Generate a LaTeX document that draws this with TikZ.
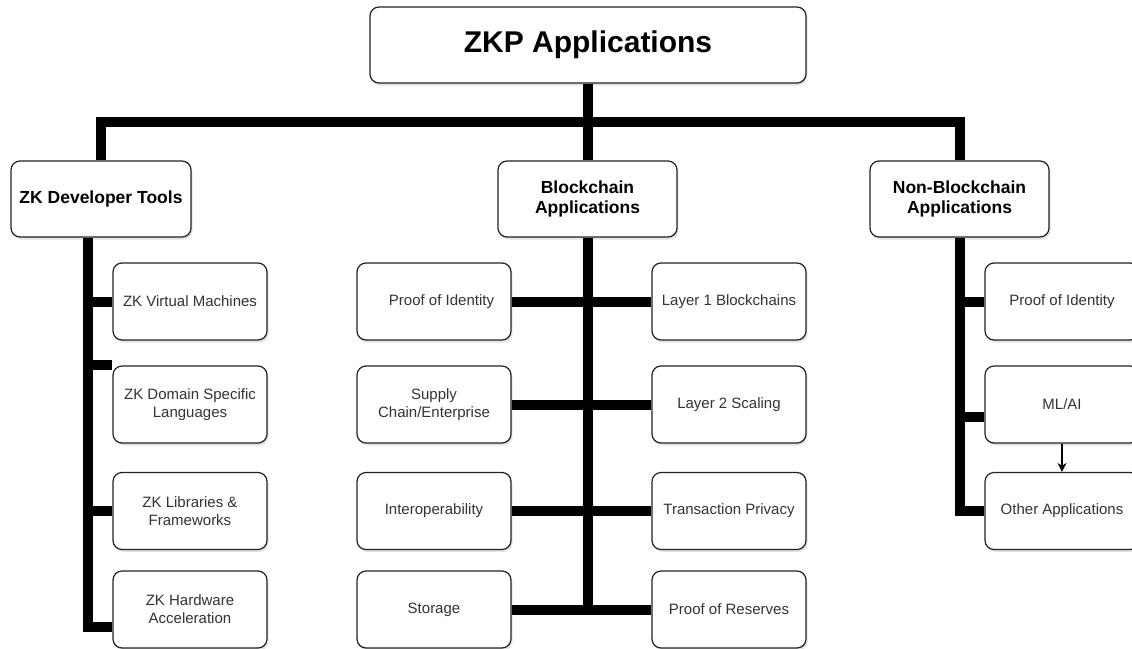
\documentclass[tikz,border=0pt]{standalone}
\usepackage{fontspec}
\setmainfont{Liberation Sans}
\usetikzlibrary{shadows,arrows.meta,calc}
\definecolor{leaftext}{HTML}{333333}
\definecolor{boxline}{HTML}{222222}
\begin{document}
\begin{tikzpicture}[x=1pt,y=-1pt,
  box/.style={draw=boxline, line width=1.2pt, rounded corners=9pt, fill=white,
    drop shadow={opacity=0.22, shadow xshift=1.5pt, shadow yshift=-2.5pt},
    inner sep=0pt, align=center},
  leaf/.style={box, minimum width=154pt, minimum height=77pt,
    font=\fontsize{15}{18}\selectfont, text=leaftext},
  head/.style={box, minimum width=179pt, minimum height=76pt,
    font=\bfseries\fontsize{17.5}{20.5}\selectfont},
  conn/.style={line width=10pt, draw=black},
  thinarrow/.style={line width=1.3pt, draw=black, -{Stealth[length=9pt,width=9pt]}},
]
\useasboundingbox (0,0) rectangle (1132,648);
\clip (0,0) rectangle (1132,648);
\fill[white] (0,0) rectangle (1132,648);

% top
\node[box, minimum width=436pt, minimum height=76pt, font=\bfseries\fontsize{30}{34}\selectfont] (top) at (588,45) {ZKP Applications};

% headers
\node[head, minimum width=180pt] (dev) at (101,199) {ZK Developer Tools};
\node[head] (bc) at (587.5,199) {Blockchain\\Applications};
\node[head] (nb) at (959.5,199) {Non-Blockchain\\Applications};

% developer tools leaves
\node[leaf] (vm)  at (190,301.5) {ZK Virtual Machines};
\node[leaf] (dsl) at (190,404.5) {ZK Domain Specific\\Languages};
\node[leaf] (lib) at (190,511)   {ZK Libraries \&\\Frameworks};
\node[leaf] (hw)  at (190,609.5) {ZK Hardware\\Acceleration};

% blockchain leaves
\node[leaf] (b1l) at (434,301.5) {\hspace*{15pt}Proof of Identity};
\node[leaf] (b2l) at (434,404.5) {Supply\\Chain/Enterprise};
\node[leaf] (b3l) at (434,511)   {Interoperability};
\node[leaf] (b4l) at (434,609.5) {Storage};
\node[leaf] (b1r) at (729,301.5) {Layer 1 Blockchains};
\node[leaf] (b2r) at (729,404.5) {Layer 2 Scaling};
\node[leaf] (b3r) at (729,511)   {Transaction Privacy};
\node[leaf] (b4r) at (729,609.5) {Proof of Reserves};

% non-blockchain leaves
\node[leaf] (n1) at (1062,301.5) {Proof of Identity};
\node[leaf] (n2) at (1062,404.5) {ML/AI};
\node[leaf] (n3) at (1062,511)   {Other Applications};

% trunk x positions
\coordinate (bar) at (588,122);
\coordinate (dtx) at (88,0);
\coordinate (btx) at (588,0);
\coordinate (ntx) at (960,0);

% top-level connectors
\draw[conn] (top.south) -- (top.south |- bc.north);
\draw[conn] (dev.north) |- (bar) -| (nb.north);

% developer tools
\draw[conn] (dev.south -| dtx) |- ($(hw.west)+(0,17.5)$);
\draw[conn] (vm.west) -- (vm.west -| dtx);
\draw[conn] ($(dsl.west)+(0,-39.5)$) -- ($(dsl.west -| dtx)+(0,-39.5)$);
\draw[conn] (lib.west) -- (lib.west -| dtx);

% blockchain
\draw[conn] (bc.south -| btx) -- ($(btx |- b4l.east)+(0,5.5)$);
\draw[conn] (b1l.east) -- (b1r.west);
\draw[conn] (b2l.east) -- (b2r.west);
\draw[conn] (b3l.east) -- (b3r.west);
\draw[conn] (b4l.east) -- (b4r.west);

% non-blockchain
\draw[conn] (nb.south -| ntx) |- (n3.west);
\draw[conn] (n1.west) -- (n1.west -| ntx);
\draw[conn] ($(n2.west)+(0,12.5)$) -- ($(n2.west -| ntx)+(0,12.5)$);
\draw[thinarrow] (n2.south) -- (n3.north);
\end{tikzpicture}
\end{document}
